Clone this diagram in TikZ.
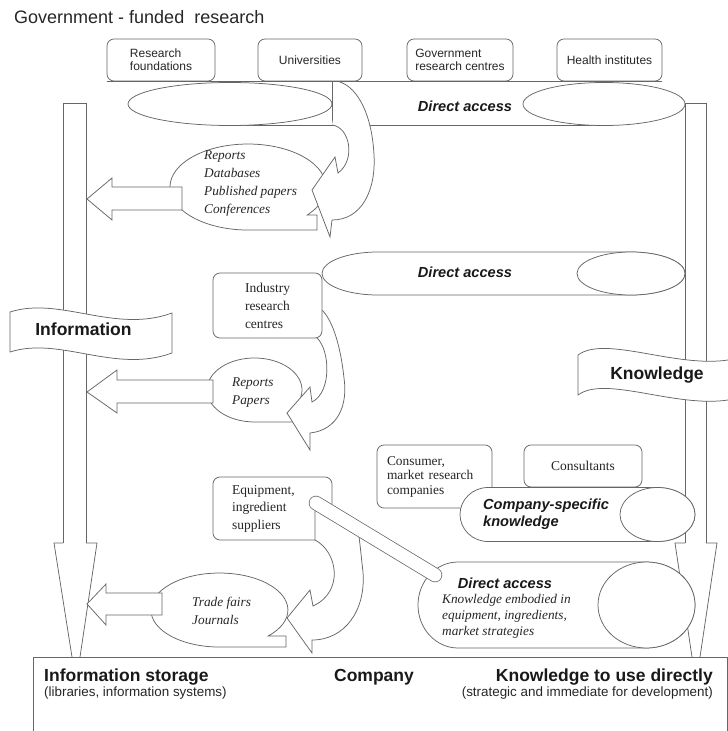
\documentclass[tikz,border=0pt]{standalone}
\usepackage{fontspec}
\setmainfont{Liberation Serif}
\setsansfont{Liberation Sans}
\begin{document}
\begin{tikzpicture}[x=1pt,y=-1pt,
  ln/.style={draw=black!60,line width=0.75pt},
  wf/.style={ln,fill=white},
  rbox/.style={wf,rounded corners=7pt,inner sep=0pt},
  topbox/.style={rbox,font=\sffamily\fontsize{12}{13}\selectfont,align=left,minimum height=42pt,text=black!85},
  serifbox/.style={rbox,font=\rmfamily\fontsize{13.5}{18}\selectfont,align=left,text=black!85},
  itx/.style={inner sep=0pt,font=\rmfamily\itshape\fontsize{13.3}{18}\selectfont,align=left,text=black!85},
  bigl/.style={inner sep=0pt,font=\sffamily\bfseries\fontsize{17.5}{20}\selectfont,text=black!90},
  dalab/.style={inner sep=0pt,font=\sffamily\bfseries\itshape\fontsize{14.6}{17}\selectfont,text=black!90,align=left},
  paren/.style={inner sep=0pt,font=\sffamily\fontsize{13.4}{16}\selectfont,text=black!85},
]
\useasboundingbox (0,0) rectangle (728,731);

% title
\node[anchor=base west,inner sep=0pt,font=\sffamily\fontsize{18}{20}\selectfont,text=black!85] (title) at (14,23) {Government - funded\ \ research};

% information column (left) and knowledge column (right)
\draw[ln] (63,543) -- (63,103) -- (86,103) -- (86,543);
\draw[ln] (63,543) -- (54,543) -- (72,657);
\draw[ln] (86,543) -- (97,543) -- (80,657);
\draw[ln] (685,543) -- (685,103) -- (706,103) -- (706,543);
\draw[ln] (685,543) -- (675,543) -- (692,657);
\draw[ln] (706,543) -- (717,543) -- (700,657);

% government-funded research sources
\node[topbox,minimum width=108pt] (rf) at (161,60) {Research\\foundations};
\node[topbox,minimum width=104pt] (uni) at (310,60) {Universities};
\node[topbox,minimum width=106pt] (grc) at (460,60) {Government\\research centres};
\node[topbox,minimum width=105pt] (hi) at (609.5,60) {Health institutes};
\draw[ln] (rf.south west) -- (hi.south east);

% first direct-access cylinder
\draw[ln] (230,125.5) -- (604,125.5);
\draw[wf] (230,104) ellipse [x radius=102, y radius=21.5];
\coordinate (ujoin) at (332,81);
\coordinate (ubase) at (332,125.5);
\draw[ln] (ujoin) -- (ubase);
\draw[wf] (604,104) ellipse [x radius=81, y radius=21.5];
\node[dalab] (da1) at (465,106) {Direct access};

% reports bubble and its arrows
\draw[wf] (307.2,215) arc[start angle=40.6, end angle=-270, x radius=78, y radius=43] -- (317,230) -- (317,215) -- cycle;
\node[itx,anchor=west] (t1) at (204,184) {Reports\\Databases\\Published papers\\Conferences};
\draw[wf] (182,187) -- (112,187) -- (112,178) -- (87,199) -- (112,220) -- (112,210) -- (182,210) -- cycle;
\draw[wf] (332,125) .. controls (350,127) and (356,160) .. (338,173) -- (335,157) -- (312,190) -- (330,237) -- (332,220)
  .. controls (362,220) and (376,190) .. (374,155) .. controls (372,115) and (358,88) .. (340,82);

% information banner
\draw[wf] (10,312) .. controls (60,296) and (115,334) .. (172,313) -- (172,353) .. controls (115,374) and (60,336) .. (10,352) -- cycle;
\node[bigl] (info) at (83.5,329) {Information};

% industry research
\draw[wf] (378,252) -- (631,252) arc[start angle=-90, end angle=90, x radius=54, y radius=21.5] -- (378,295) arc[start angle=90, end angle=270, x radius=56, y radius=21.5] -- cycle;
\draw[wf] (631,273.5) ellipse [x radius=54, y radius=21.5];
\node[dalab] (da2) at (465,272) {Direct access};

\draw[wf] (287.5,413) arc[start angle=46, end angle=-270, x radius=47.5, y radius=32] -- (295,422) -- (295,413) -- cycle;
\node[itx,anchor=west] (t2) at (232,393) {Reports\\Papers};
\draw[wf] (213,380) -- (117,380) -- (117,370) -- (87,392) -- (117,413) -- (117,403) -- (213,403) -- cycle;
\draw[wf] (317,338) .. controls (330,350) and (332,392) .. (312,402) -- (310,387) -- (287,413) -- (310,450) -- (310,433)
  .. controls (338,430) and (348,405) .. (344,378) .. controls (341,350) and (334,322) .. (322,310);
\node[serifbox,minimum width=109pt,minimum height=65pt] (irc) at (267.5,305.5) {Industry\\research\\centres};

% knowledge banner
\draw[wf] (728,360) .. controls (675,368) and (605,335) .. (578,355) -- (578,395) .. controls (605,375) and (675,408) .. (728,400);
\node[bigl] (know) at (657,375) {Knowledge};

% company-specific knowledge
\node[serifbox,text width=95pt,inner xsep=10pt,minimum height=63pt,font=\rmfamily\fontsize{13.4}{14.5}\selectfont] (cmr) at (434.5,476.5) {Consumer,\\market research\\companies};
\node[serifbox,minimum width=118pt,minimum height=42pt] (cons) at (583,466) {Consultants};
\draw[wf] (488,487.5) -- (657.5,487.5) arc[start angle=-90, end angle=90, x radius=37.5, y radius=27] -- (488,541.5) arc[start angle=90, end angle=270, x radius=28, y radius=27] -- cycle;
\draw[wf] (657.5,514.5) ellipse [x radius=37.5, y radius=27];
\node[dalab,anchor=west] (csk) at (483,514) {Company-specific\\knowledge};

% suppliers
\node[serifbox,text width=81pt,inner xsep=19pt,minimum height=63pt,font=\rmfamily\fontsize{13.5}{17.5}\selectfont] (eis) at (272.5,508.5) {Equipment,\\ingredient\\suppliers};
\draw[wf] (268.2,636) arc[start angle=44.6, end angle=-270, x radius=68.5, y radius=37] -- (286,647) -- (286,636) -- cycle;
\node[itx,anchor=west] (t3) at (192,611) {Trade fairs\\Journals};
\draw[wf] (162,593) -- (106,593) -- (106,584) -- (87,604) -- (106,625) -- (106,615) -- (162,615) -- cycle;
\draw[wf] (315,508) -- (315,540) .. controls (338,552) and (344,592) .. (313,606) -- (310,590) -- (287,618) -- (312,653) -- (312,640)
  .. controls (345,640) and (366,610) .. (363,572) .. controls (361,555) and (360,542) .. (358,530);

\draw[wf] (458,562) -- (646.5,562) arc[start angle=-90, end angle=90, x radius=48.5, y radius=43] -- (458,648) arc[start angle=90, end angle=270, x radius=40, y radius=43] -- cycle;
\draw[wf] (646.5,605) ellipse [x radius=48.5, y radius=43];
\node[dalab] (da3) at (505,583) {Direct access};
\node[itx,anchor=west,font=\rmfamily\itshape\fontsize{13.3}{16}\selectfont] (ke) at (442,616) {Knowledge embodied in\\equipment, ingredients,\\market strategies};

\coordinate (tubeA) at (316,503);
\coordinate (tubeB) at (435,575);
\draw[black!60,line width=14.5pt,line cap=round] (tubeA) -- (tubeB);
\draw[white,line width=13pt,line cap=round] (tubeA) -- (tubeB);

% company
\draw[ln] (33,732) -- (33,657) -- (727,657) -- (727,732);
\node[bigl,anchor=base west] (infst) at (44,681) {Information storage};
\node[paren,anchor=base west] (infsys) at (44,696) {(libraries, information systems)};
\node[bigl,anchor=base] (comp) at (374,681) {Company};
\node[bigl,anchor=base east] (kud) at (713,681) {Knowledge to use directly};
\node[paren,anchor=base east] (strat) at (713,696) {(strategic and immediate for development)};
\end{tikzpicture}
\end{document}
